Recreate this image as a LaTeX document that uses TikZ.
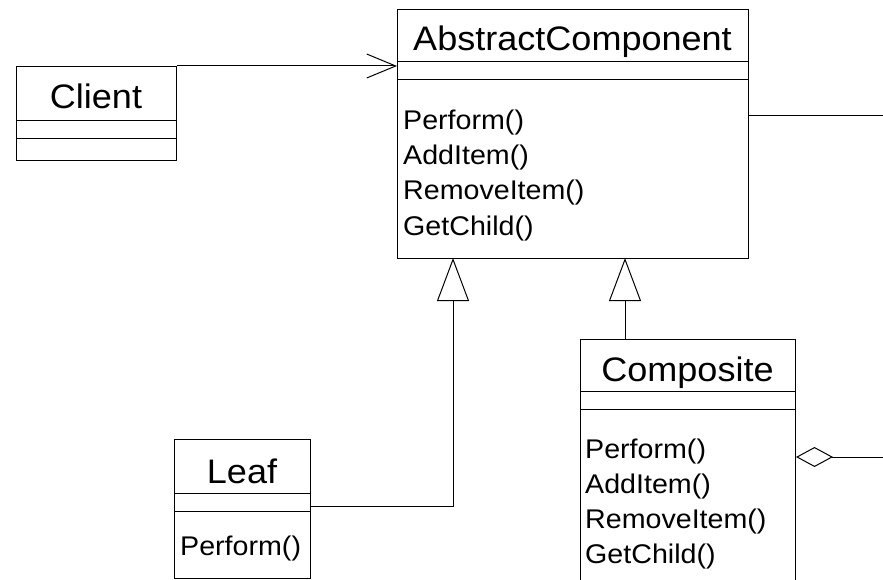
\documentclass[tikz,border=0pt]{standalone}
\usepackage{fontspec}
\setmainfont{Liberation Sans}
\newfontfamily\umlfont[FakeStretch=1.06]{Liberation Sans}
\usetikzlibrary{arrows.meta}
\begin{document}
\begin{tikzpicture}[x=1pt,y=-1pt,
  classbox/.style={draw, line width=1pt, inner sep=0pt, anchor=north west},
  classname/.style={font=\umlfont\fontsize{34}{40}\selectfont, anchor=base, inner sep=0pt},
  op/.style={font=\umlfont\fontsize{27}{33}\selectfont, anchor=base west, inner sep=0pt},
  divider/.style={line width=0.9pt},
  link/.style={line width=1pt},
  gen/.style={link, -{Triangle[open, length=43pt, width=32pt]}},
  assoc/.style={link, -{Straight Barb[length=29pt, width=24pt]}},
  aggr/.style={link, {Diamond[open, length=37pt, width=20pt]}-}]
\useasboundingbox (0,0) rectangle (883,580);
\clip (0,0) rectangle (883,580);

% class frames
\node[classbox, minimum width=351pt, minimum height=249pt] (ac) at (397,9) {};
\node[classbox, minimum width=160pt, minimum height=94pt] (client) at (16,66) {};
\node[classbox, minimum width=136pt, minimum height=139pt] (leaf) at (174,439) {};
\node[classbox, minimum width=215pt, minimum height=262pt] (comp) at (580,339) {};

% compartment rules
\draw[divider] (ac.west |- 0,61) -- (ac.east |- 0,61);
\draw[divider] (ac.west |- 0,79) -- (ac.east |- 0,79);
\draw[divider] (client.west |- 0,120) -- (client.east |- 0,120);
\draw[divider] (client.west |- 0,138) -- (client.east |- 0,138);
\draw[divider] (leaf.west |- 0,493) -- (leaf.east |- 0,493);
\draw[divider] (leaf.west |- 0,511) -- (leaf.east |- 0,511);
\draw[divider] (comp.west |- 0,391) -- (comp.east |- 0,391);
\draw[divider] (comp.west |- 0,409) -- (comp.east |- 0,409);

% class names
\node[classname] (acname) at (572.5,51) {AbstractComponent};
\node[classname] (clientname) at (96,109) {Client};
\node[classname] (leafname) at (242,483) {Leaf};
\node[classname] (compname) at (687.5,381) {Composite};

% operations
\node[op] (acop1) at (403,130) {Perform()};
\node[op] (acop2) at (403,165) {AddItem()};
\node[op] (acop3) at (403,200) {RemoveItem()};
\node[op] (acop4) at (403,235) {GetChild()};
\node[op] (leafop1) at (180,555) {Perform()};
\node[op] (compop1) at (585,458) {Perform()};
\node[op] (compop2) at (585,493) {AddItem()};
\node[op] (compop3) at (585,528) {RemoveItem()};
\node[op] (compop4) at (585,563) {GetChild()};

% connector anchors
\coordinate (g1) at (453,258);
\coordinate (g2) at (625,258);
\coordinate (e1) at (883,116);
\coordinate (e2) at (883,457);

% relations
\draw[assoc] (client.north east) -- (ac.west |- client.north east);
\draw[gen] ([yshift=2.5pt]leaf.east) -| (g1);
\draw[gen] (g2 |- comp.north) -- (g2);
\draw[link] (e1 -| ac.east) -- (e1);
\draw[aggr] (e2 -| comp.east) -- (e2);
\end{tikzpicture}
\end{document}
